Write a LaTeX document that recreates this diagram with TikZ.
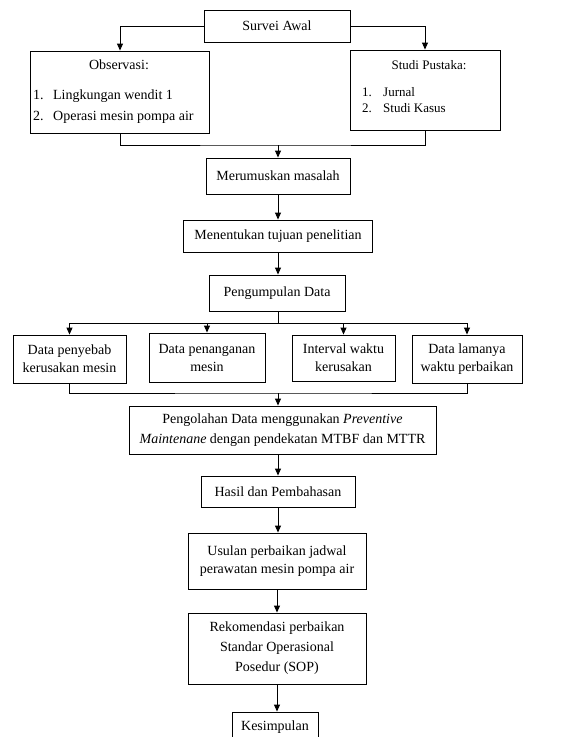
\documentclass[tikz,border=0pt]{standalone}
\usepackage{fontspec}
\setmainfont{Liberation Serif}
\usetikzlibrary{arrows.meta}
\begin{document}
\begin{tikzpicture}[x=1pt,y=-1pt,
  box/.style={draw, line width=0.9pt, inner sep=2pt, align=center, font=\fontsize{14}{18}\selectfont},
  arr/.style={line width=0.9pt, -{Triangle[length=7pt,width=6pt]}},
  ln/.style={line width=0.9pt},
  lbl/.style={inner sep=0pt, align=center},
  lst/.style={inner sep=0pt, align=left, anchor=west}]
\clip (0,0) rectangle (562,737);
% top
\node[box, minimum width=146pt, minimum height=32pt] (survei) at (277,26) {Survei Awal};
\node[box, minimum width=179pt, minimum height=82pt] (obs) at (120,92) {};
\node[lbl, font=\fontsize{14}{18}\selectfont] (obst) at (119,65) {Observasi:};
\node[lst, font=\fontsize{14}{21}\selectfont] (obsl) at (33,107)
  {\makebox[20pt][l]{1.}Lingkungan wendit 1\\\makebox[20pt][l]{2.}Operasi mesin pompa air};
\node[box, minimum width=150pt, minimum height=80pt] (studi) at (425,90) {};
\node[lbl, font=\fontsize{13}{16}\selectfont] (studit) at (429,65) {Studi Pustaka:};
\node[lst, font=\fontsize{13}{16}\selectfont] (studil) at (362,100)
  {\makebox[21pt][l]{1.}Jurnal\\\makebox[21pt][l]{2.}Studi Kasus};
\draw[arr] (survei.west) -| (obs.north);
\draw[arr] (survei.east) -| (studi.north);
% merge 1
\node[box, minimum width=144pt, minimum height=36pt] (merum) at (278,176) {Merumuskan masalah};
\coordinate (j1) at (278,145);
\draw[ln] (obs.south) |- (j1) -| (studi.south);
\draw[arr] (j1) -- (merum.north);
\node[box, minimum width=189pt, minimum height=32pt] (menent) at (278,236) {Menentukan tujuan penelitian};
\node[box, minimum width=136pt, minimum height=36pt] (pengum) at (277,293) {Pengumpulan Data};
\draw[arr] (merum.south) -- (merum.south |- menent.north);
\draw[arr] (menent.south) -- (menent.south |- pengum.north);
% split
\coordinate (j2) at (278,323);
\node[box, minimum width=113pt, minimum height=48pt] (d1) at (69.5,359) {Data penyebab\\kerusakan mesin};
\node[box, minimum width=116pt, minimum height=49pt] (d2) at (207,357.5) {Data penanganan\\mesin};
\node[box, minimum width=103pt, minimum height=46pt] (d3) at (343.5,358) {Interval waktu\\kerusakan};
\node[box, minimum width=110pt, minimum height=48pt] (d4) at (467,359) {Data lamanya\\waktu perbaikan};
\draw[ln] (pengum.south -| j2) -- (j2);
\draw[ln] (d1.north |- j2) -- (d4.north |- j2);
\draw[arr] (d1.north |- j2) -- (d1.north);
\draw[arr] (d2.north |- j2) -- (d2.north);
\draw[arr] (d3.north |- j2) -- (d3.north);
\draw[arr] (d4.north |- j2) -- (d4.north);
% merge 2
\node[box, minimum width=307pt, minimum height=48pt, font=\fontsize{14}{20}\selectfont] (olah) at (282.5,430)
  {Pengolahan Data menggunakan \textit{Preventive}\\\textit{Maintenane} dengan pendekatan MTBF dan MTTR};
\coordinate (j3) at (278,393);
\draw[ln] (d1.south) |- (j3) -| (d4.south);
\draw[arr] (j3) -- (j3 |- olah.north);
% lower column
\node[box, minimum width=154pt, minimum height=31pt] (hasil) at (278,491.5) {Hasil dan Pembahasan};
\node[box, minimum width=178pt, minimum height=56pt] (usulan) at (277,561) {Usulan perbaikan jadwal\\perawatan mesin pompa air};
\node[box, minimum width=178pt, minimum height=71pt, font=\fontsize{14}{20}\selectfont] (rekom) at (277,648.5)
  {Rekomendasi perbaikan\\Standar Operasional\\Posedur (SOP)};
\node[box, minimum width=86pt, minimum height=30pt] (kesim) at (275,727) {Kesimpulan};
\draw[arr] (hasil.north |- olah.south) -- (hasil.north);
\draw[arr] (hasil.south) -- (hasil.south |- usulan.north);
\draw[arr] (usulan.south) -- (usulan.south |- rekom.north);
\draw[arr] (rekom.south) -- (rekom.south |- kesim.north);
\end{tikzpicture}
\end{document}
